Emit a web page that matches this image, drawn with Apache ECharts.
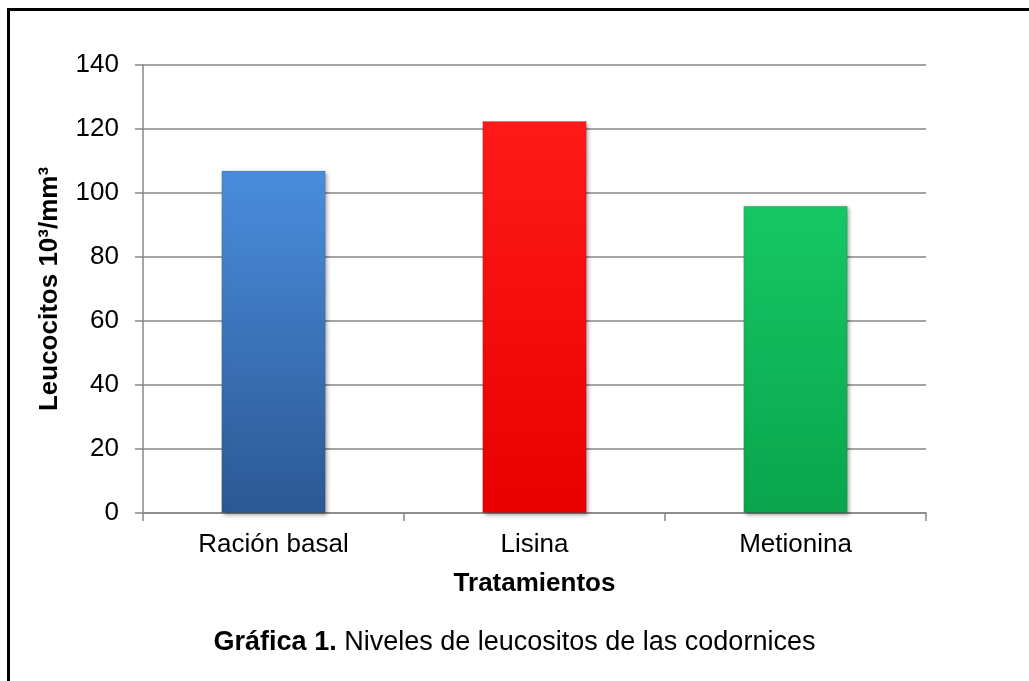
<!DOCTYPE html>
<html>
<head>
<meta charset="utf-8">
<script src="https://cdn.jsdelivr.net/npm/echarts@6/dist/echarts.min.js"></script>
<style>
html, body { margin: 0; padding: 0; background: #fff; }
#chart { width: 1029px; height: 681px; }
</style>
</head>
<body>
<div id="chart"></div>
<script>
const categories = ['Ración basal', 'Lisina', 'Metionina']
const leucocitos = [107, 122.5, 96]
const barColors = [
    ['#4a8ddd', '#2c5894'],
    ['#ff1a1a', '#e80000'],
    ['#16c765', '#0aa54c']
]

const font = '"Liberation Sans", Arial, sans-serif'

const chart = echarts.init(document.getElementById('chart'))

chart.setOption({
    backgroundColor: '#fff',
    textStyle: { fontFamily: font },
    animation: false,
    graphic: [{
        type: 'rect',
        shape: { x: 8.5, y: 9.5, width: 1100, height: 800 },
        style: { fill: 'none', stroke: '#000', lineWidth: 3 },
        z: 100
    }],
    title: {
        text: '{b|Gráfica 1.} Niveles de leucositos de las codornices',
        left: 'center',
        top: 624,
        textStyle: {
            fontFamily: font,
            fontSize: 27,
            fontWeight: 'normal',
            color: '#000',
            rich: {
                b: { fontFamily: font, fontSize: 27, fontWeight: 'bold', color: '#000' }
            }
        }
    },
    grid: {
        left: 143,
        right: 103,
        top: 65,
        bottom: 168
    },
    xAxis: {
        type: 'category',
        data: categories,
        name: 'Tratamientos',
        nameLocation: 'middle',
        nameGap: 58,
        nameTextStyle: { fontFamily: font, fontSize: 26, fontWeight: 'bold', color: '#000' },
        axisLine: { lineStyle: { color: '#868686', width: 1.5 } },
        axisTick: { show: true, length: 8, lineStyle: { color: '#868686', width: 1.5 } },
        axisLabel: { fontFamily: font, fontSize: 26, color: '#000', margin: 19 }
    },
    yAxis: {
        type: 'value',
        min: 0,
        max: 140,
        interval: 20,
        name: 'Leucocitos 10³/mm³',
        nameLocation: 'middle',
        nameGap: 80,
        nameRotate: 90,
        nameTextStyle: { fontFamily: font, fontSize: 26, fontWeight: 'bold', color: '#000' },
        axisLine: { show: true, lineStyle: { color: '#868686', width: 1.5 } },
        axisTick: { show: true, inside: false, length: 8, lineStyle: { color: '#868686', width: 1.5 } },
        axisLabel: { fontFamily: font, fontSize: 26, color: '#000', margin: 24 },
        splitLine: { lineStyle: { color: '#868686', width: 1.5 } }
    },
    series: [{
        type: 'bar',
        barWidth: '40%',
        data: leucocitos.map((v, i) => ({
            value: v,
            itemStyle: {
                color: new echarts.graphic.LinearGradient(0, 0, 0, 1, [
                    { offset: 0, color: barColors[i][0] },
                    { offset: 1, color: barColors[i][1] }
                ]),
                borderColor: 'rgba(0,0,0,0.12)',
                borderWidth: 1,
                shadowColor: 'rgba(0,0,0,0.35)',
                shadowBlur: 4,
                shadowOffsetX: 2,
                shadowOffsetY: 2
            }
        }))
    }]
})
</script>
</body>
</html>
